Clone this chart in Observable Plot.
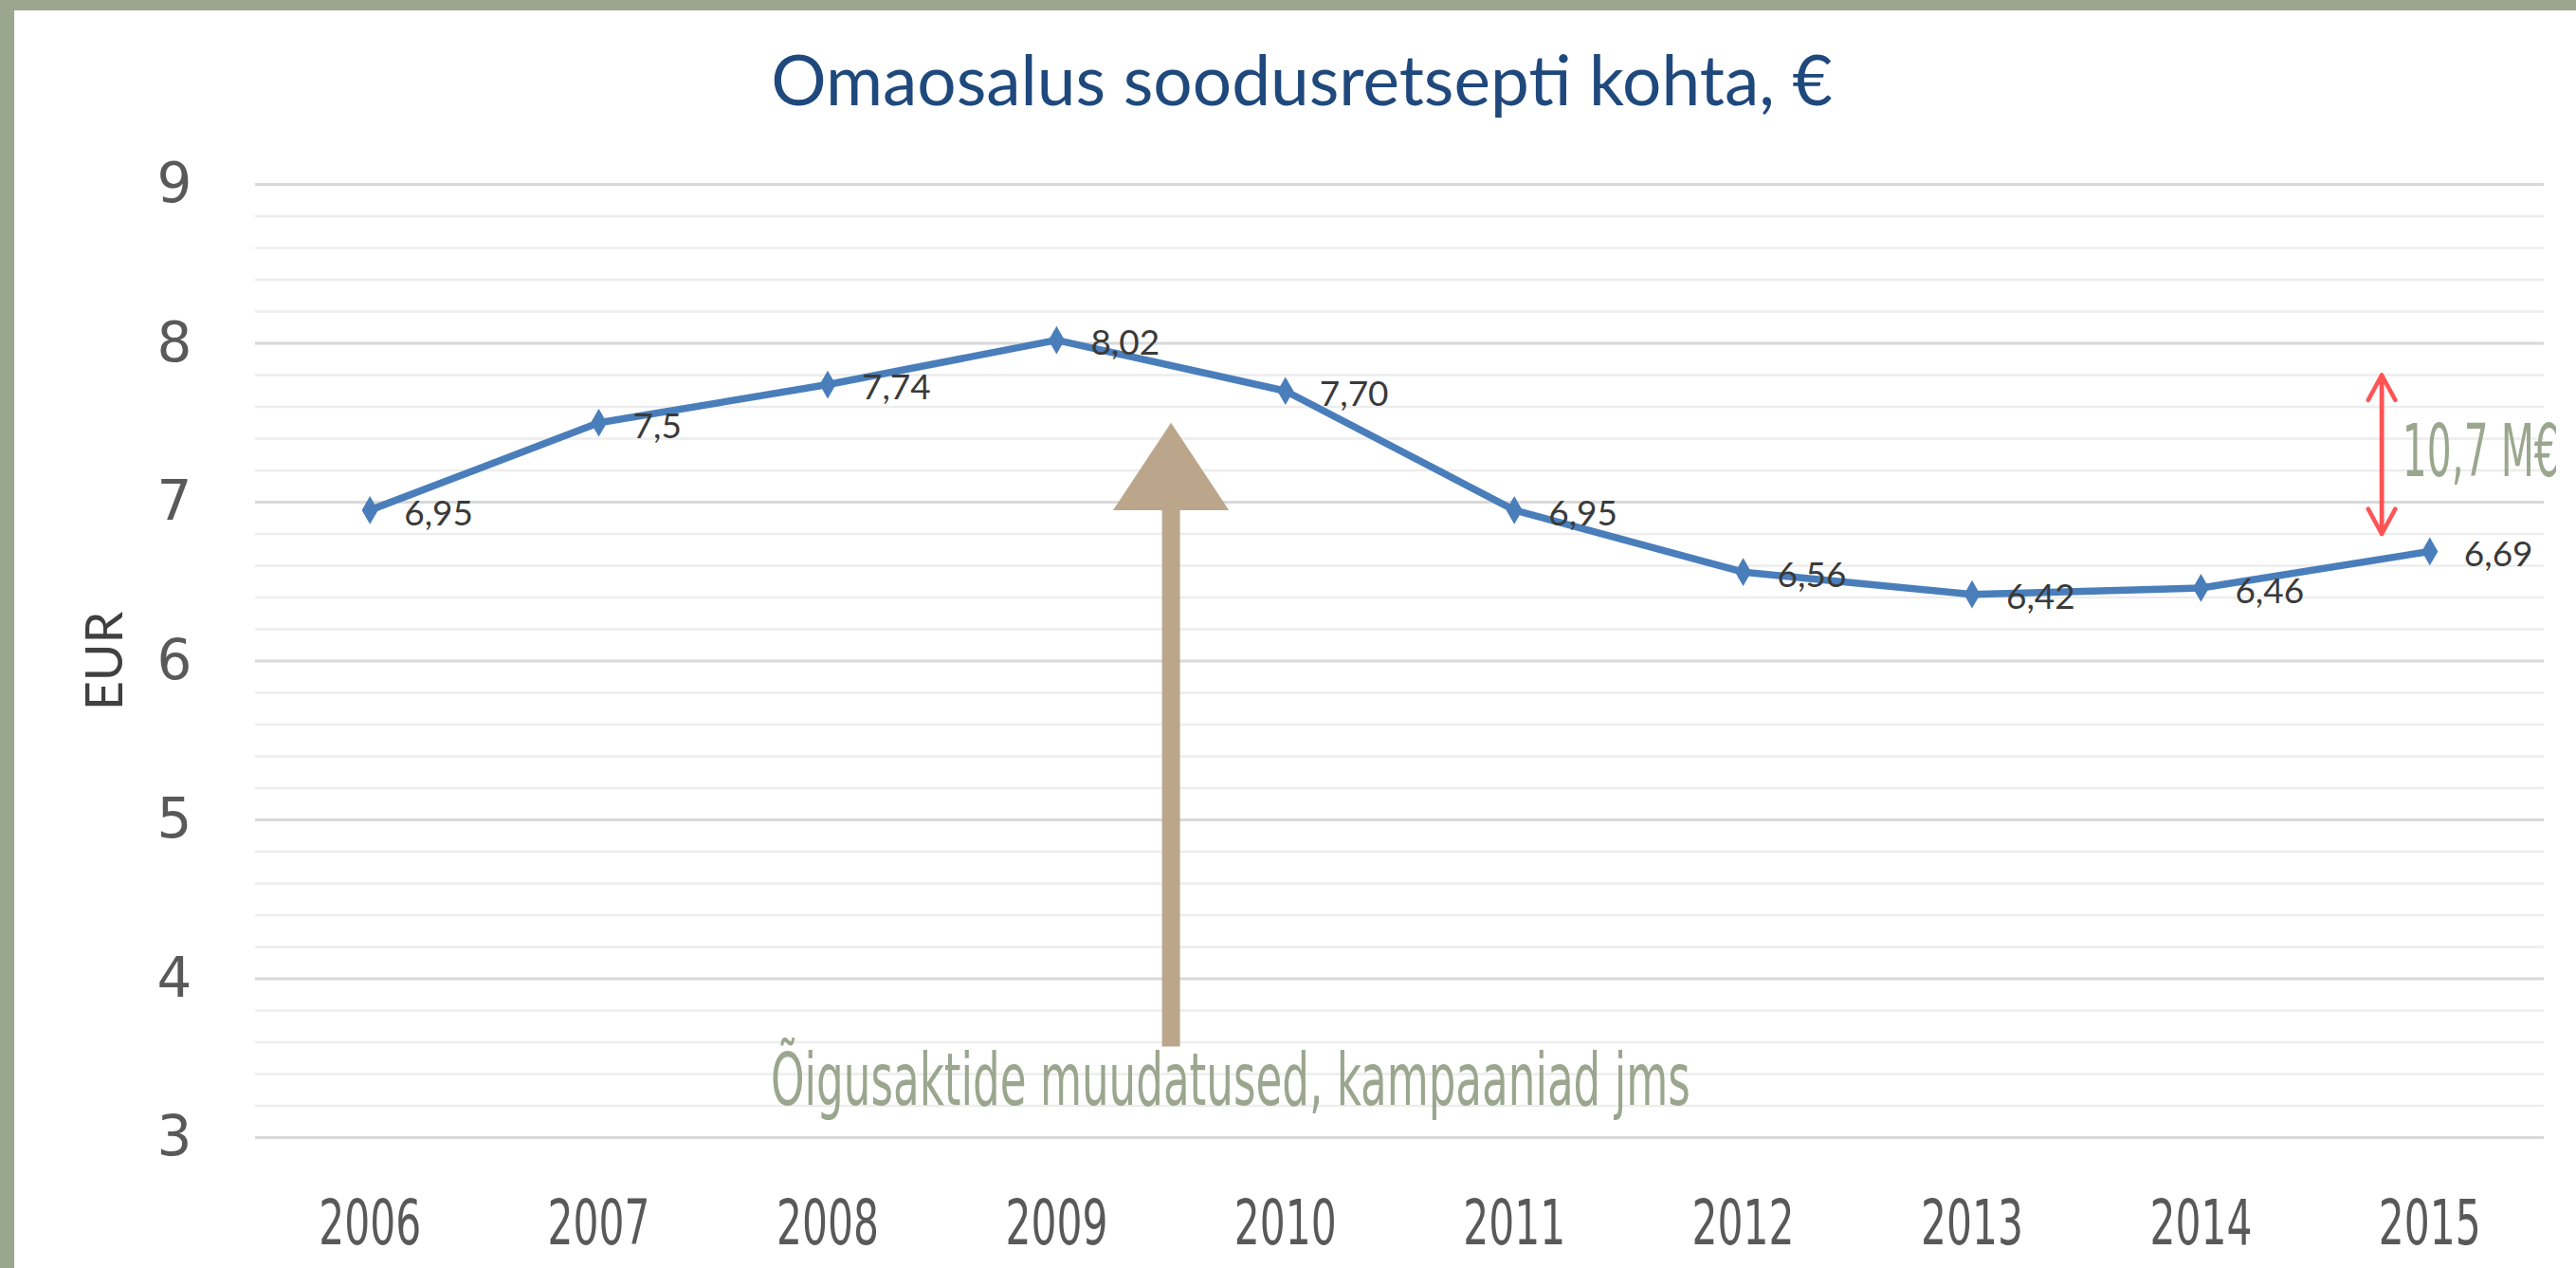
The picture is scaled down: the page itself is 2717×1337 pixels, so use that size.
<!DOCTYPE html>
<html><head><meta charset="utf-8">
<script src="https://cdn.jsdelivr.net/npm/d3@7"></script>
<script src="https://cdn.jsdelivr.net/npm/@observablehq/plot@0.6"></script>
<style>
html,body{margin:0;padding:0;}
body{width:2717px;height:1337px;background:#9ba68f;overflow:hidden;position:relative;}
#panel{position:absolute;left:15px;top:11px;right:0;bottom:0;background:#fff;}
#title{position:absolute;left:1373px;top:83px;transform:translate(-50%,-50%);font-family:Lato,"Open Sans",sans-serif;font-size:73px;color:#1f497d;white-space:nowrap;line-height:1;}
#chart{position:absolute;left:0;top:150px;}
</style></head><body>
<div id="panel"></div>
<div id="title">Omaosalus soodusretsepti kohta, €</div>
<div id="chart"></div>
<script>
// ---- data ----
const years = [2006, 2007, 2008, 2009, 2010, 2011, 2012, 2013, 2014, 2015];
const values = [6.95, 7.5, 7.74, 8.02, 7.70, 6.95, 6.56, 6.42, 6.46, 6.69];
const valueLabels = ["6,95", "7,5", "7,74", "8,02", "7,70", "6,95", "6,56", "6,42", "6,46", "6,69"];
const yTicks = [3, 4, 5, 6, 7, 8, 9];
const minorTicks = d3.range(30, 91, 2).map(d => d / 10);
const yLabel = "EUR";
const noteText = "Õigusaktide muudatused, kampaaniad jms";
const gapText = "10,7 M€";

const data = years.map((year, i) => ({year, value: values[i], label: valueLabels[i]}));

// annotation geometry (data units)
const arrowX = 2009.5, arrowBottom = 3.57, arrowBase = 6.95, arrowTip = 7.5, headHalf = 0.253;
const head = [
  {x: arrowX - headHalf, y: arrowBase},
  {x: arrowX, y: arrowTip},
  {x: arrowX + headHalf, y: arrowBase}
];
const gapX = 2014.79, gapLow = 6.8, gapHigh = 7.8;

const blue = "#4a7ebb";
const tan = "#bba68c";
const sage = "#9ba68e";
const red = "#fe5455";
const narrow = "'Liberation Sans Narrow','DejaVu Sans Condensed','DejaVu Sans',sans-serif";

const plot = Plot.plot({
  width: 2717,
  height: 1187,
  marginTop: 44,
  marginBottom: 138,
  marginLeft: 269,
  marginRight: 34,
  style: {background: "transparent", overflow: "visible"},
  x: {type: "linear", domain: [2005.5, 2015.5]},
  y: {domain: [3, 9]},
  marks: [
    Plot.ruleY(minorTicks, {stroke: "#ededed", strokeWidth: 2.5}),
    Plot.ruleY(yTicks, {stroke: "#d9d9d9", strokeWidth: 3}),
    Plot.axisY({ticks: yTicks, tickFormat: d => String(d), tickSize: 0, tickPadding: 67, fontSize: 58, fontFamily: "DejaVu Sans", color: "#595959", label: null}),
    Plot.axisX({ticks: years, tickFormat: d => String(d), tickSize: 0, tickPadding: 66, fontSize: 66,
      fontFamily: narrow, color: "#595959", label: null}),
    Plot.text([yLabel], {frameAnchor: "left", textAnchor: "middle", dx: -158, rotate: -90, fontSize: 54, fontFamily: "Lato", fill: "#404040"}),
    // tan annotation arrow
    Plot.ruleX([arrowX], {y1: arrowBottom, y2: arrowBase, stroke: tan, strokeWidth: 19}),
    Plot.line(head, {x: "x", y: "y", fill: tan, stroke: "none"}),
    // data
    Plot.line(data, {x: "year", y: "value", stroke: blue, strokeWidth: 7.5}),
    Plot.dot(data, {x: "year", y: "value", symbol: "diamond", r: 9, fill: blue}),
    Plot.text(data, {x: "year", y: "value", text: "label", textAnchor: "start", dx: 36, dy: 4, fontSize: 37, fontFamily: "Lato", fill: "#3a3a3a"}),
    // red double arrow
    Plot.arrow([{y1: gapLow, y2: gapHigh}, {y1: gapHigh, y2: gapLow}], {x1: () => gapX, x2: () => gapX, y1: "y1", y2: "y2", stroke: red, strokeWidth: 4.5, headLength: 10, headAngle: 57}),
    Plot.text([gapText], {x: 2014.88, y: 7.31, textAnchor: "start", fontSize: 76, fontFamily: narrow, fill: sage}),
    Plot.text([noteText], {x: 2009.76, y: 3.35, fontSize: 76, fontFamily: narrow, fill: sage})
  ]
});
document.getElementById("chart").appendChild(plot);

// condense texts horizontally (wrap each in a scaling group around its anchor)
const ns = "http://www.w3.org/2000/svg";
function condense(el, L, anchor) {
  const r = el.getBoundingClientRect();
  if (!r.width) return;
  const s = L / r.width;
  const parent = el.parentNode;
  const ctm = parent.getScreenCTM();
  if (!ctm) return;
  const pt = plot.createSVGPoint();
  pt.x = anchor === "start" ? r.left : r.left + r.width / 2;
  pt.y = r.top;
  const p = pt.matrixTransform(ctm.inverse());
  const g = document.createElementNS(ns, "g");
  g.setAttribute("transform", `translate(${p.x},0) scale(${s},1) translate(${-p.x},0)`);
  parent.insertBefore(g, el);
  g.appendChild(el);
}
const yearSet = new Set(years.map(String));
const targets = [];
d3.select(plot).selectAll("text").each(function() {
  const t = this.textContent;
  if (t === noteText) targets.push([this, 970, "middle"]);
  else if (t === gapText) targets.push([this, 165, "start"]);
  else if (yearSet.has(t)) targets.push([this, 108, "middle"]);
});
targets.forEach(([el, L, a]) => condense(el, L, a));
</script>
</body></html>
